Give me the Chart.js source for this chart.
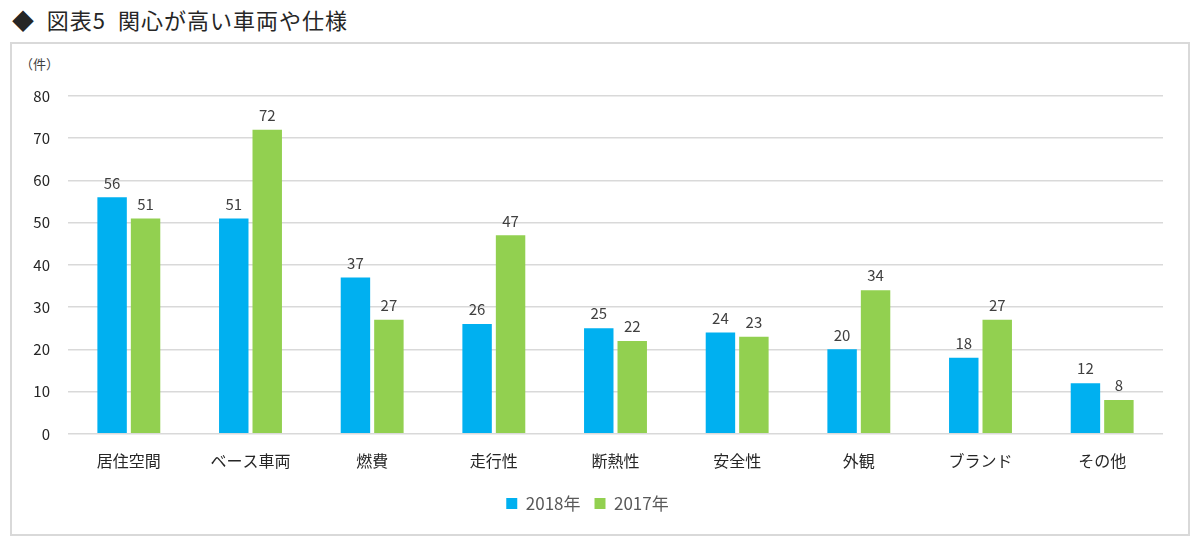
<!DOCTYPE html>
<html lang="ja">
<head>
    <meta charset="UTF-8">
    <title>図表5 関心が高い車両や仕様</title>
    <style>
        body { margin: 0; background: #fff; font-family: "Noto Sans CJK JP", sans-serif; }
        #title { position: absolute; left: 12px; top: 3px; font-size: 22px; letter-spacing: 1px; color: #262626; white-space: pre; }
        #box { position: absolute; left: 10px; top: 42px; width: 1176px; height: 490px; border: 2px solid #d9d9d9; }
        #unit { position: absolute; left: 8px; top: 10px; font-size: 13px; color: #404040; }
        canvas { position: absolute; left: 0; top: 0; }
    </style>
    <script src="https://cdn.jsdelivr.net/npm/chart.js@4/dist/chart.umd.min.js"></script>
</head>
<body>
    <div id="title">◆  図表5  関心が高い車両や仕様</div>
    <div id="box">
        <div id="unit">（件）</div>
        <canvas id="chart" width="1176" height="490"></canvas>
    </div>

    <script>
        const categories = ['居住空間', 'ベース車両', '燃費', '走行性', '断熱性', '安全性', '外観', 'ブランド', 'その他'];
        const values2018 = [56, 51, 37, 26, 25, 24, 20, 18, 12];
        const values2017 = [51, 72, 27, 47, 22, 23, 34, 27, 8];
        const yTicks = [0, 10, 20, 30, 40, 50, 60, 70, 80];

        // 棒の上に数値を表示
        const barLabels = {
            id: 'barLabels',
            afterDatasetsDraw(chart) {
                const ctx = chart.ctx;
                ctx.save();
                ctx.font = '15px "Noto Sans CJK JP"';
                ctx.fillStyle = '#404040';
                ctx.textAlign = 'center';
                ctx.textBaseline = 'bottom';
                chart.data.datasets.forEach((ds, i) => {
                    chart.getDatasetMeta(i).data.forEach((bar, j) => {
                        ctx.fillText(ds.data[j], bar.x, bar.y - 7);
                    });
                });
                ctx.restore();
            }
        };

        new Chart(document.getElementById('chart'), {
            type: 'bar',
            data: {
                labels: categories,
                datasets: [
                    { label: '2018年', data: values2018, backgroundColor: '#00b0f0' },
                    { label: '2017年', data: values2017, backgroundColor: '#92d050' }
                ]
            },
            options: {
                responsive: false,
                animation: false,
                datasets: { bar: { categoryPercentage: 0.55, barPercentage: 0.88 } },
                layout: { padding: { top: 52, right: 25, left: 0, bottom: 12 } },
                plugins: {
                    tooltip: { enabled: false },
                    legend: {
                        position: 'bottom',
                        labels: {
                            boxWidth: 11, boxHeight: 11, padding: 14,
                            color: '#595959',
                            font: { size: 17, family: '"Noto Sans CJK JP"' }
                        }
                    }
                },
                scales: {
                    x: {
                        grid: { display: false },
                        border: { display: false },
                        ticks: { color: '#262626', padding: 10, font: { size: 16, family: '"Noto Sans CJK JP"' } }
                    },
                    y: {
                        min: 0, max: 80,
                        afterBuildTicks: axis => { axis.ticks = yTicks.map(v => ({ value: v })); },
                        afterFit: axis => { axis.width = 56; },
                        grid: { color: '#d9d9d9', lineWidth: 1.5, drawTicks: false },
                        border: { display: false },
                        ticks: { color: '#262626', padding: 18, font: { size: 15, family: '"Noto Sans CJK JP"' } }
                    }
                }
            },
            plugins: [barLabels]
        });
    </script>
</body>
</html>
